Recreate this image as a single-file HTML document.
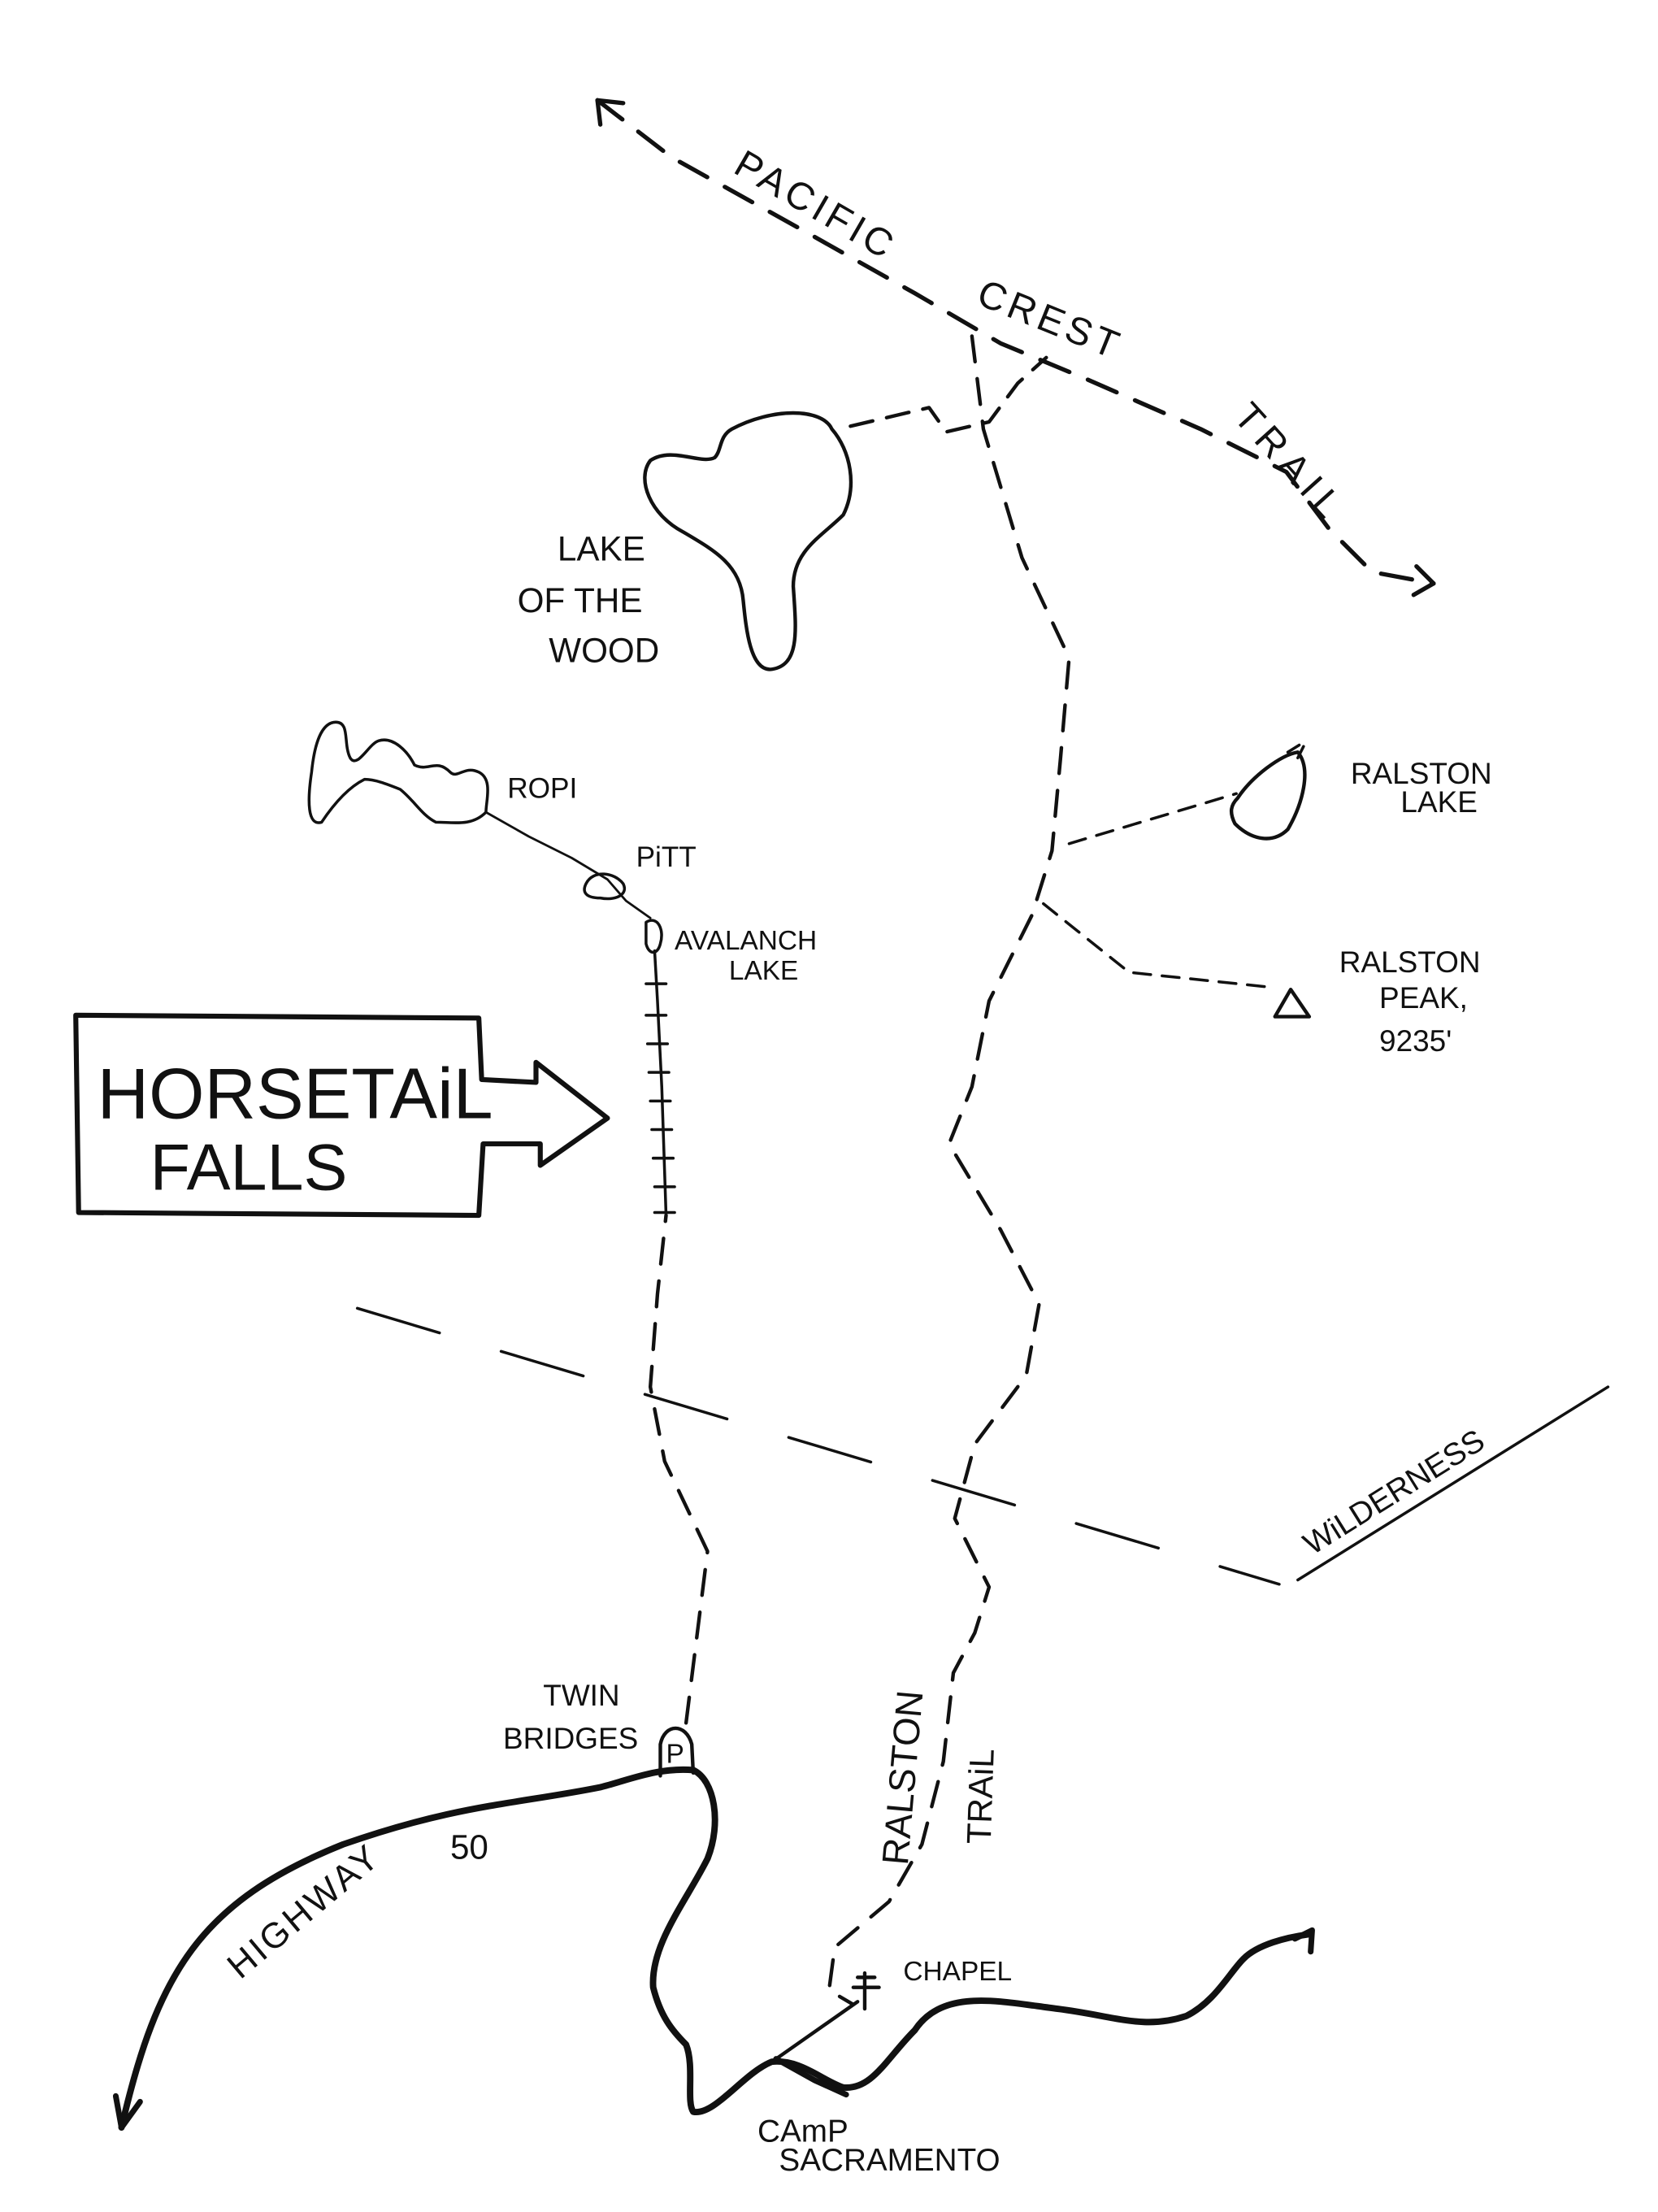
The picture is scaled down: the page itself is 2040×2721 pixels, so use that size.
<!DOCTYPE html>
<html><head><meta charset="utf-8"><style>
html,body{margin:0;padding:0;background:#fff;}
svg{display:block;}
text{font-family:"Liberation Sans",sans-serif;fill:#111;}
</style></head><body>
<svg width="2040" height="2721" viewBox="0 0 1160 1547" xmlns="http://www.w3.org/2000/svg">
<g fill="none" stroke="#111" stroke-linecap="round" stroke-linejoin="round">
<!-- PCT -->
<path d="M418,70 L470,110 L560,160 L640,205 L700,240 L760,265 L840,300 L900,330 L930,370 L960,400 L1003,408" stroke-width="3" stroke-dasharray="22,14"/>
<path d="M418,70 l18,2 M418,70 l2,17" stroke-width="3"/>
<path d="M1003,408 l-12,-12 M1003,408 l-14,8" stroke-width="3"/>
<!-- Ralston trail -->
<path d="M680,235 L688,300 L715,390 L748,460 L742,530 L736,595 L722,640 L692,700 L680,760 L664,800 L700,860 L727,912 L718,962 L682,1010 L668,1062 L692,1110 L682,1142 L667,1170 L660,1232 L645,1290 L622,1330 L584,1362 L580,1392 L597,1402" stroke-width="2.5" stroke-dasharray="18,12"/>
<path d="M595,298 L650,285 L662,302 L692,295 L712,268 L732,250" stroke-width="2.5" stroke-dasharray="16,10"/>
<!-- Lake of the wood -->
<path d="M512,300 C540,285 575,285 582,300 C595,315 600,340 590,360 C575,375 555,385 555,410 C557,440 560,465 540,468 C525,470 522,440 520,420 C518,395 500,385 478,372 C455,360 445,335 455,322 C470,312 490,325 500,320 C505,315 503,305 512,300 Z" stroke-width="2.5"/>
<!-- Ralston lake -->
<path d="M748,590 L865,555" stroke-width="2" stroke-dasharray="12,8"/>
<path d="M866,558 C876,543 896,528 908,526 C918,538 911,563 901,580 C891,590 876,588 864,576 C860,568 861,563 866,558 Z" stroke-width="2.5"/>
<path d="M901,526 l8,-5 M908,530 l4,-8" stroke-width="2"/>
<!-- Ralston peak -->
<path d="M730,632 L790,680 L885,690" stroke-width="2" stroke-dasharray="12,8"/>
<path d="M903,692 L892,711 L916,711 Z" stroke-width="2.5"/>
<!-- Horsetail trail -->
<path d="M480,1205 L495,1085 L465,1022 L455,970 L460,905 L466,850" stroke-width="2.5" stroke-dasharray="18,12"/>
<path d="M458,665 L460,700 L463,760 L466,850" stroke-width="2"/>
<path d="M452,688 l14,0 M452,710 l14,0 M453,730 l14,0 M454,750 l14,0 M455,770 l14,0 M456,790 l14,0 M457,810 l14,0 M458,830 l14,0 M458,848 l14,0" stroke-width="2"/>
<path d="M452,645 C460,640 465,650 462,660 C460,668 454,668 452,660 Z" stroke-width="2"/>
<path d="M455,642 L438,630 L425,615 L400,600 L370,585 L340,568" stroke-width="1.6"/>
<path d="M410,618 C415,608 430,610 436,618 C440,626 430,630 420,628 C410,628 407,624 410,618 Z" stroke-width="2"/>
<path d="M340,568 C330,578 318,575 305,575 C295,570 290,560 280,552 C270,548 262,545 255,545 C245,550 235,560 225,575 C215,578 215,560 218,540 C220,520 225,505 235,505 C245,505 240,520 245,530 C250,538 258,520 265,518 C275,515 285,525 290,535 C300,540 305,530 315,540 C320,545 325,535 335,540 C345,545 340,560 340,568 Z" stroke-width="2"/>
<!-- wilderness -->
<path d="M250,915 L895,1108" stroke-width="2" stroke-dasharray="60,45"/>
<path d="M908,1105 L1125,970" stroke-width="2"/>
<!-- P -->
<path d="M462,1242 L462,1220 C465,1205 480,1205 484,1220 L485,1240" stroke-width="2.5"/>
<!-- highway -->
<path d="M85,1488 C110,1380 140,1330 240,1290 C320,1262 360,1262 420,1250 C440,1245 460,1236 485,1238 C500,1245 505,1275 495,1300 C480,1330 455,1360 457,1390 C462,1410 470,1420 480,1430 C486,1445 480,1470 485,1477 C500,1480 520,1450 540,1442 C560,1440 575,1455 590,1460 C610,1462 620,1440 640,1420 C660,1390 700,1400 740,1405 C780,1410 800,1420 830,1410 C850,1400 860,1380 870,1370 C880,1360 900,1355 915,1353" stroke-width="4.5"/>
<path d="M85,1488 l-4,-22 M85,1488 l13,-18" stroke-width="4"/>
<path d="M918,1350 l-12,6 M918,1350 l-1,15" stroke-width="4"/>
<path d="M543,1440 L570,1455 L592,1465" stroke-width="4"/>
<path d="M543,1440 L600,1400" stroke-width="2.5"/>
<path d="M605,1380 l0,25 M597,1390 l18,0 M600,1383 l12,0" stroke-width="2.5"/>
<!-- horsetail box -->
<path d="M53,710 L335,712 L337,755 L375,757 L375,743 L425,782 L378,815 L378,800 L338,800 L335,850 L55,848 Z" stroke-width="3.5"/>
</g>
<g font-size="24">
<text transform="translate(512,120) rotate(30)" font-size="27" letter-spacing="3">PACIFIC</text>
<text transform="translate(682,212) rotate(22)" font-size="27" letter-spacing="3">CREST</text>
<text transform="translate(862,292) rotate(48)" font-size="27" letter-spacing="5">TRAIL</text>
<text x="390" y="392">LAKE</text>
<text x="362" y="428">OF THE</text>
<text x="384" y="463">WOOD</text>
<text x="945" y="548" font-size="21">RALSTON</text>
<text x="980" y="568" font-size="21">LAKE</text>
<text x="937" y="680" font-size="21">RALSTON</text>
<text x="965" y="705" font-size="21">PEAK,</text>
<text x="965" y="735" font-size="21">9235'</text>
<text x="355" y="558" font-size="20">ROPI</text>
<text x="445" y="606" font-size="20">PiTT</text>
<text x="472" y="664" font-size="19">AVALANCH</text>
<text x="510" y="685" font-size="19">LAKE</text>
<text x="68" y="782" font-size="50">HORSETAiL</text>
<text x="105" y="832" font-size="46">FALLS</text>
<text transform="translate(918,1088) rotate(-32)" font-size="22">WiLDERNESS</text>
<text x="380" y="1193" font-size="21">TWIN</text>
<text x="352" y="1223" font-size="21">BRIDGES</text>
<text x="466" y="1233" font-size="19">P</text>
<text transform="translate(168,1385) rotate(-40)" font-size="25" letter-spacing="2">HIGHWAY</text>
<text x="315" y="1300" font-size="24">50</text>
<text transform="translate(635,1305) rotate(-85)" font-size="26">RALSTON</text>
<text transform="translate(693,1290) rotate(-88)" font-size="24">TRAiL</text>
<text x="632" y="1385" font-size="19">CHAPEL</text>
<text x="530" y="1498" font-size="22">CAmP</text>
<text x="545" y="1518" font-size="22">SACRAMENTO</text>
</g>
</svg>
</body></html>
